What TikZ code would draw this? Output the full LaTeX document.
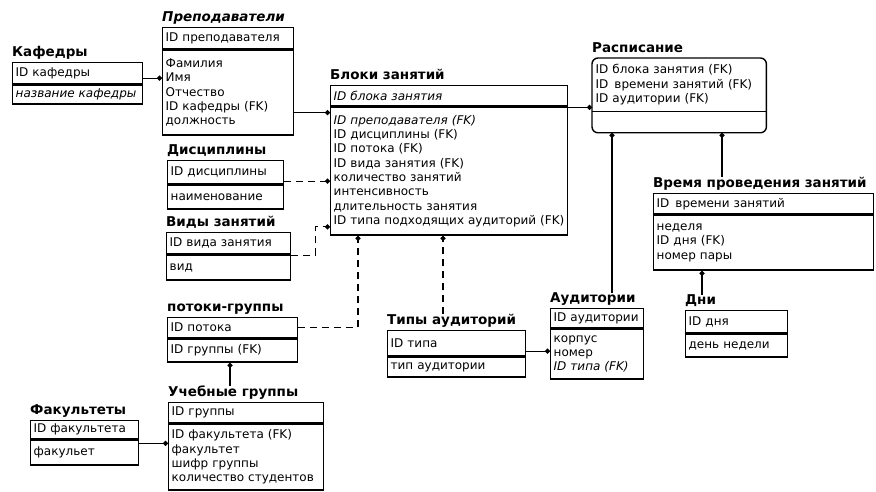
\documentclass[tikz,border=0pt]{standalone}
\usepackage{fontspec}
\setmainfont{DejaVu Sans}
\usetikzlibrary{positioning, arrows.meta}

\begin{document}
\begin{tikzpicture}[x=1pt, y=-1pt]

\tikzset{key/.style = {draw, line width=1.4pt, anchor=north west, inner xsep=3pt, inner ysep=1pt, align=left, font=\fontsize{12}{14.3}\selectfont}}
\tikzset{attr/.style = {draw, line width=1.4pt, inner xsep=3pt, inner ysep=1pt, align=left, font=\fontsize{12}{14.3}\selectfont}}
\tikzset{ttl/.style = {inner sep=0pt, text depth=3pt, font=\fontsize{13.5}{15}\selectfont\bfseries}}
\tikzset{rel/.style = {-{Circle[length=5pt]}, line width=1.2pt}}
\tikzset{nrel/.style = {rel, dash pattern=on 7pt off 5pt}}

\useasboundingbox (0,0) rectangle (876,492);

%entities
\node[key, text width=124pt, minimum height=21pt] (kaf) at (12,62) {ID кафедры};
\node[attr, text width=124pt, minimum height=19pt, below=0pt of kaf] (kafb) {\textit{название кафедры}};
\node[ttl, above right=2pt and 0pt of kaf.north west] (kaft) {Кафедры};

\node[key, text width=125pt, minimum height=21pt] (prep) at (162,27) {ID преподавателя};
\node[attr, text width=125pt, minimum height=85pt, below=0pt of prep] (prepb) {Фамилия\\Имя\\Отчество\\ID кафедры (FK)\\должность};
\node[ttl, above right=2pt and 0pt of prep.north west] (prept) {\textit{Преподаватели}};

\node[key, text width=110pt, minimum height=23pt] (disc) at (167,160) {ID дисциплины};
\node[attr, text width=110pt, minimum height=24pt, below=0pt of disc] (discb) {наименование};
\node[ttl, above right=2pt and 0pt of disc.north west] (disct) {Дисциплины};

\node[key, text width=118pt, minimum height=21pt] (vid) at (166,232) {ID вида занятия};
\node[attr, text width=118pt, minimum height=25pt, below=0pt of vid] (vidb) {вид};
\node[ttl, above right=2pt and 0pt of vid.north west] (vidt) {Виды занятий};

\node[key, text width=124pt, minimum height=20pt] (potok) at (167,317) {ID потока};
\node[attr, text width=124pt, minimum height=23pt, below=0pt of potok] (potokb) {ID группы (FK)};
\node[ttl, above right=2pt and 0pt of potok.north west] (potokt) {потоки-группы};

\node[key, text width=149pt, minimum height=20pt] (uch) at (168,402) {ID группы};
\node[attr, text width=149pt, minimum height=66pt, below=0pt of uch] (uchb) {ID факультета (FK)\\факультет\\шифр группы\\количество студентов};
\node[ttl, above right=2pt and 0pt of uch.north west] (ucht) {Учебные группы};

\node[key, text width=102pt, minimum height=18pt] (fak) at (30,420) {ID факультета};
\node[attr, text width=102pt, minimum height=25pt, below=0pt of fak] (fakb) {факульет};
\node[ttl, above right=2pt and 0pt of fak.north west] (fakt) {Факультеты};

\node[key, text width=231pt, minimum height=20pt] (bloki) at (330,85) {\textit{ID блока занятия}};
\node[attr, text width=231pt, minimum height=128pt, below=0pt of bloki] (blokib) {\textit{ID преподавателя (FK)}\\ID дисциплины (FK)\\ID потока (FK)\\ID вида занятия (FK)\\количество занятий\\интенсивность\\длительность занятия\\ID типа подходящих аудиторий (FK)};
\node[ttl, above right=2pt and 0pt of bloki.north west] (blokit) {Блоки занятий};

\node[key, draw=none, text width=167pt, minimum height=52pt] (rasp) at (592,58) {ID блока занятия (FK)\\ID\enspace времени занятий (FK)\\ID аудитории (FK)};
\node[attr, draw=none, text width=167pt, minimum height=20pt, below=0pt of rasp] (raspb) {};
\node[ttl, above right=2pt and 0pt of rasp.north west] (raspt) {Расписание};
\draw[line width=1.4pt, rounded corners=6pt] (rasp.north west) rectangle (raspb.south east);
\draw[line width=1.4pt] (rasp.south west) -- (rasp.south east);

\node[key, text width=132pt, minimum height=25pt] (tipy) at (387,330) {ID типа};
\node[attr, text width=132pt, minimum height=20pt, below=0pt of tipy] (tipyb) {тип аудитории};
\node[ttl, above right=2pt and 0pt of tipy.north west] (tipyt) {Типы аудиторий};

\node[key, text width=87pt, minimum height=19pt] (aud) at (550,308) {ID аудитории};
\node[attr, text width=87pt, minimum height=50pt, below=0pt of aud] (audb) {корпус\\номер\\\textit{ID типа (FK)}};
\node[ttl, above right=2pt and 0pt of aud.north west] (audt) {Аудитории};

\node[key, text width=214pt, minimum height=20pt] (vrem) at (653,193) {ID\enspace времени занятий};
\node[attr, text width=214pt, minimum height=55pt, below=0pt of vrem] (vremb) {неделя\\ID дня (FK)\\номер пары};
\node[ttl, above right=2pt and 0pt of vrem.north west] (vremt) {Время проведения занятий};

\node[key, text width=96pt, minimum height=22pt] (dni) at (685,310) {ID дня};
\node[attr, text width=96pt, minimum height=23pt, below=0pt of dni] (dnib) {день недели};
\node[ttl, above right=2pt and 0pt of dni.north west] (dnit) {Дни};

%relations
\draw[rel] ([yshift=-5pt]kaf.east) -- ([yshift=-5pt]kaf.east -| prep.west);
\draw[rel] ([yshift=-20pt]prepb.east) -- ([yshift=-20pt]prepb.east -| blokib.west);
\draw[nrel] ([yshift=-9pt]disc.east) -- ([yshift=-9pt]disc.east -| blokib.west);
\draw[nrel] ([yshift=-1pt]vid.south east) -- ++(24,0) |- ([yshift=9pt]blokib.south west);
\draw[nrel] (potok.east) -| ([xshift=28pt]blokib.south west);
\draw[nrel] ([xshift=56pt]tipyt.north west) -- ([xshift=56pt]tipyt.north west |- blokib.south);
\draw[rel] ([yshift=-8pt]tipy.east) -- ([yshift=-8pt]tipy.east -| audb.west);
\draw[rel] ([yshift=-1pt]blokib.north east) -- ([yshift=-1pt]blokib.north east -| rasp.west);
\draw[rel] ([xshift=20pt]raspb.south west |- audt.north) -- ([xshift=20pt]raspb.south west);
\draw[rel] ([xshift=130pt]raspb.south west |- vremt.north) -- ([xshift=130pt]raspb.south west);
\draw[rel] ([xshift=17pt]dnit.north west) -- ([xshift=17pt]dnit.north west |- vremb.south);
\draw[rel] ([xshift=62pt]ucht.north west) -- ([xshift=62pt]ucht.north west |- potokb.south);
\draw[rel] ([yshift=-4pt]fakb.north east) -- ([yshift=-4pt]fakb.north east -| uchb.west);

\end{tikzpicture}
\end{document}
